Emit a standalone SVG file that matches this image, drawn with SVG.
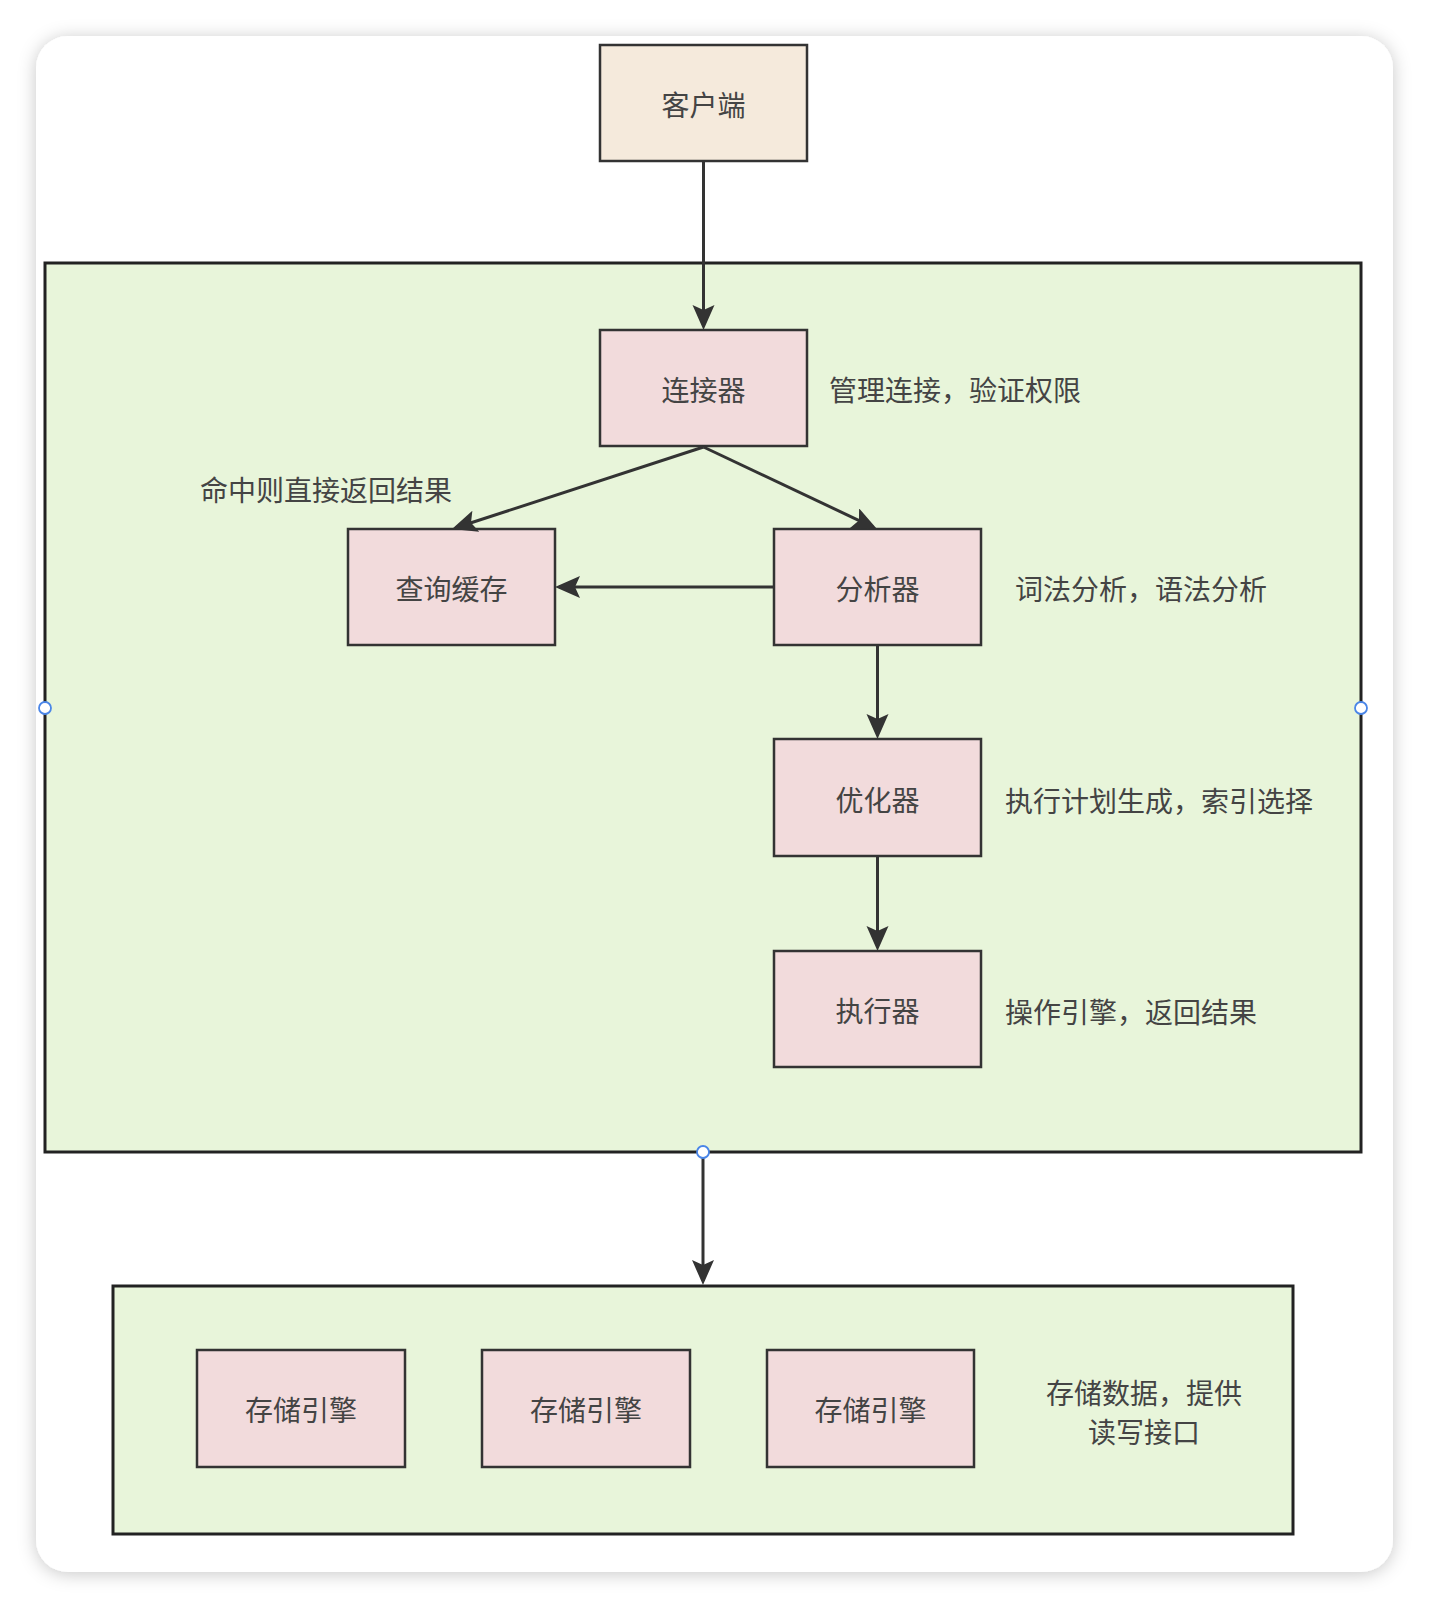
<svg xmlns="http://www.w3.org/2000/svg" width="1430" height="1610" viewBox="0 0 1430 1610">
  <defs>
    <filter id="shadow" x="-5%" y="-5%" width="110%" height="110%">
      <feDropShadow dx="0" dy="2" stdDeviation="9" flood-color="#000" flood-opacity="0.22"/>
    </filter>
    <marker id="arrow" markerUnits="userSpaceOnUse" markerWidth="30" markerHeight="30" refX="21" refY="11" orient="auto">
      <path d="M0,0 L25,11 L0,22 L5,11 Z" fill="#333333"/>
    </marker>
    <style>
      .node { stroke: #333333; stroke-width: 2.5; }
      .client { fill: #F5EADC; }
      .pink { fill: #F2DBDC; }
      .group { fill: #E8F5DA; stroke: #222222; stroke-width: 3; }
      .label { font-family: "Noto Sans CJK SC", "Noto Sans", sans-serif; font-size: 28px; fill: #444444; dominant-baseline: central; }
      .mid { text-anchor: middle; }
      .edge { fill: none; stroke: #333333; stroke-width: 3; marker-end: url(#arrow); }
      .port { fill: #ffffff; stroke: #4a86e8; stroke-width: 1.8; }
    </style>
  </defs>
  <rect x="0" y="0" width="1430" height="1610" fill="#ffffff"/>
  <rect x="36" y="36" width="1357" height="1536" rx="32" ry="32" fill="#ffffff" filter="url(#shadow)"/>

  <g id="server-layer">
    <rect class="group" x="45" y="263" width="1316" height="889"/>
  </g>
  <g id="storage-layer">
    <rect class="group" x="113" y="1286" width="1180" height="248"/>
  </g>

  <g id="client">
    <rect class="node client" x="600" y="45" width="207" height="116"/>
    <text class="label mid" x="703.5" y="104">客户端</text>
  </g>
  <g id="connector">
    <rect class="node pink" x="600" y="330" width="207" height="116"/>
    <text class="label mid" x="703.5" y="389">连接器</text>
  </g>
  <g id="query-cache">
    <rect class="node pink" x="348" y="529" width="207" height="116"/>
    <text class="label mid" x="451.5" y="588">查询缓存</text>
  </g>
  <g id="analyzer">
    <rect class="node pink" x="774" y="529" width="207" height="116"/>
    <text class="label mid" x="877.5" y="588">分析器</text>
  </g>
  <g id="optimizer">
    <rect class="node pink" x="774" y="739" width="207" height="117"/>
    <text class="label mid" x="877.5" y="799">优化器</text>
  </g>
  <g id="executor">
    <rect class="node pink" x="774" y="951" width="207" height="116"/>
    <text class="label mid" x="877.5" y="1010">执行器</text>
  </g>
  <g id="engine1">
    <rect class="node pink" x="197" y="1350" width="208" height="117"/>
    <text class="label mid" x="301" y="1409">存储引擎</text>
  </g>
  <g id="engine2">
    <rect class="node pink" x="482" y="1350" width="208" height="117"/>
    <text class="label mid" x="586" y="1409">存储引擎</text>
  </g>
  <g id="engine3">
    <rect class="node pink" x="767" y="1350" width="207" height="117"/>
    <text class="label mid" x="870.5" y="1409">存储引擎</text>
  </g>

  <g id="annotations">
    <text class="label" x="829" y="389">管理连接，验证权限</text>
    <text class="label" x="200" y="489">命中则直接返回结果</text>
    <text class="label" x="1015" y="588">词法分析，语法分析</text>
    <text class="label" x="1005" y="800">执行计划生成，索引选择</text>
    <text class="label" x="1005" y="1011">操作引擎，返回结果</text>
    <text class="label mid" x="1144" y="1392">存储数据，提供</text>
    <text class="label mid" x="1144" y="1431">读写接口</text>
  </g>

  <g id="connectors">
    <path class="edge" d="M703.5,161 L703.5,326"/>
    <path class="edge" d="M703.5,447 L455.8,527.8"/>
    <path class="edge" d="M703.5,447 L873.4,527.3"/>
    <path class="edge" d="M774,587 L559,587"/>
    <path class="edge" d="M877.5,645 L877.5,735"/>
    <path class="edge" d="M877.5,856 L877.5,947"/>
    <path class="edge" d="M703,1152 L703,1281"/>
  </g>

  <g id="ports">
    <circle class="port" cx="45" cy="708" r="6"/>
    <circle class="port" cx="1361" cy="708" r="6"/>
    <circle class="port" cx="703" cy="1152" r="6"/>
  </g>
</svg>
